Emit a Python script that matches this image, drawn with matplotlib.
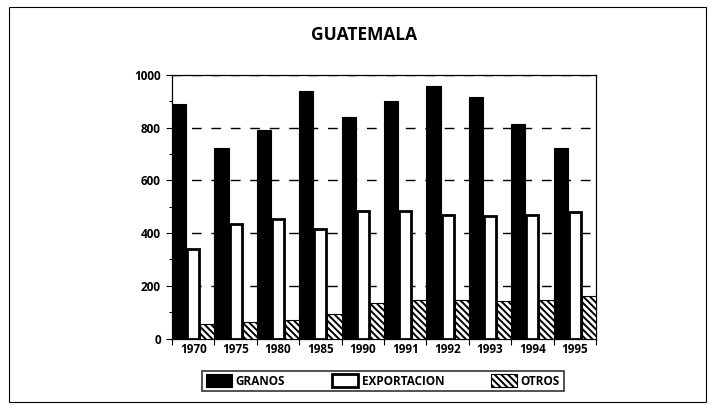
import numpy as np
import matplotlib
matplotlib.use('Agg')
import matplotlib.pyplot as plt
from matplotlib.patches import Rectangle

plt.rcParams['font.family'] = ['Open Sans', 'DejaVu Sans']
plt.rcParams['hatch.linewidth'] = 1.4

years = ['1970', '1975', '1980', '1985', '1990', '1991', '1992', '1993', '1994', '1995']
granos = [890, 722, 792, 938, 840, 903, 960, 916, 815, 722]
exportacion = [340, 435, 453, 415, 482, 482, 470, 466, 470, 480]
otros = [54, 62, 70, 92, 133, 148, 148, 144, 148, 163]

fig = plt.figure(figsize=(7.13, 4.08), dpi=100)
ax = fig.add_axes([172 / 713, 1 - 338.5 / 408, 424 / 713, 263.5 / 408])

# outer frame
fig.patches.append(Rectangle((9 / 713, 6 / 408), 697 / 713, 395 / 408, transform=fig.transFigure,
                             fill=False, edgecolor='black', linewidth=0.8))

x = np.arange(len(years))
w = 1 / 3
ax.bar(x - w, granos, w, color='black', edgecolor='black', linewidth=0.8, label='GRANOS', zorder=3)
ax.bar(x, exportacion, w * 0.86, color='white', edgecolor='black', linewidth=2.0, label='EXPORTACION', zorder=3)
ax.bar(x + w, otros, w, color='white', edgecolor='black', hatch='\\\\\\\\\\', linewidth=0.8, label='OTROS', zorder=3)

ax.set_xlim(-0.5, len(years) - 0.5)
ax.set_ylim(0, 1000)
ax.set_yticks([0, 200, 400, 600, 800, 1000])
ax.set_yticks(np.arange(0, 1001, 100), minor=True)
ax.set_xticks(x)
ax.set_xticklabels(years, fontweight='bold', fontsize=8.5)
ax.set_xticks(np.arange(-0.5, len(years)), minor=True)
ax.tick_params(axis='x', which='major', length=0, pad=3)
ax.tick_params(axis='x', which='minor', length=4, width=0.8, direction='out')
ax.tick_params(axis='y', which='major', length=4, width=0.8, labelsize=8.5, pad=4)
ax.tick_params(axis='y', which='minor', length=2, width=0.8)
for lbl in ax.get_yticklabels():
    lbl.set_fontweight('bold')

ax.yaxis.grid(True, linestyle=(0, (7, 7)), color='black', linewidth=1.0, zorder=1)
for s in ax.spines.values():
    s.set_linewidth(0.9)
ax.set_axisbelow(True)

fig.text(0.51, 1 - 35 / 408, 'GUATEMALA', ha='center', va='center', fontsize=12.5, fontweight='bold')

leg = fig.legend(loc='center', bbox_to_anchor=(383 / 713, 1 - 381 / 408), ncol=3, frameon=True,
                 fancybox=False, edgecolor='black', handlelength=2.2, handleheight=1.3,
                 columnspacing=4.0, handletextpad=0.3, borderpad=0.3, borderaxespad=0.0,
                 prop={'weight': 'bold', 'size': 8.5})
leg.get_frame().set_linewidth(1.2)

fig.savefig('out.png', dpi=100)
